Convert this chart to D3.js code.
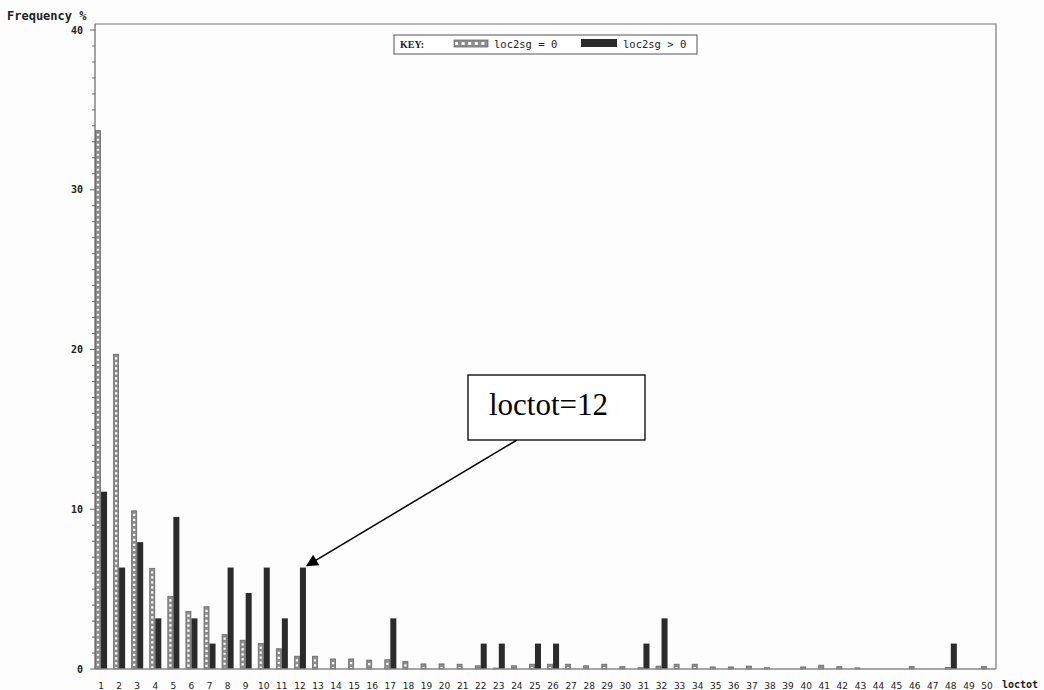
<!DOCTYPE html>
<html>
<head>
<meta charset="utf-8">
<script src="https://cdn.jsdelivr.net/npm/d3@7"></script>
<style>
  html, body { margin: 0; padding: 0; background: #fdfdfd; }
  svg { display: block; }
  .tick-lab { font-family: "DejaVu Sans", sans-serif; font-size: 9px; fill: #222; }
</style>
</head>
<body>
<svg id="chart" width="1044" height="690"></svg>
<script>
// loctot categories 1..50
const categories = ["1","2","3","4","5","6","7","8","9","10","11","12","13","14","15","16","17",
  "18","19","20","21","22","23","24","25","26","27","28","29","30","31","32","33","34","35",
  "36","37","38","39","40","41","42","43","44","45","46","47","48","49","50"];

// Frequency % for loc2sg = 0 (dotted bars)
const zeroGroup = [33.7, 19.7, 9.9, 6.3, 4.55, 3.6, 3.9, 2.15, 1.8, 1.6, 1.27, 0.8, 0.8, 0.63, 0.63,
  0.56, 0.58, 0.48, 0.32, 0.32, 0.3, 0.2, 0.06, 0.2, 0.3, 0.3, 0.3, 0.2, 0.3, 0.15,
  0.08, 0.18, 0.3, 0.3, 0.13, 0.13, 0.18, 0.08, 0, 0.13, 0.24, 0.15, 0.07, 0, 0,
  0.15, 0, 0.1, 0, 0.15];

// Frequency % for loc2sg > 0 (solid bars)
const posGroup = [11.1, 6.35, 7.94, 3.17, 9.52, 3.17, 1.59, 6.35, 4.76, 6.35, 3.17, 6.35, 0, 0, 0,
  0, 3.17, 0, 0, 0, 0, 1.59, 1.59, 0, 1.59, 1.59, 0, 0, 0, 0,
  1.59, 3.17, 0, 0, 0, 0, 0, 0, 0, 0, 0, 0, 0, 0, 0,
  0, 0, 1.59, 0, 0];

const yMajorTicks = [0, 10, 20, 30, 40];
const annotation = { category: "12", label: "loctot=12" };

(function () {
  "use strict";
  const svg = d3.select("#chart");
  const pLeft = 95, pRight = 996, pTop = 24, pBottom = 669;
  const mono = "DejaVu Sans Mono, monospace";

  const x = d3.scaleBand().domain(categories).range([pLeft, 993])
    .paddingInner(1 / 3).paddingOuter(0);
  const xs = d3.scaleBand().domain(["zero", "pos"]).range([0, x.bandwidth()]);
  const y = d3.scaleLinear().domain([0, 40]).range([pBottom, 30]);

  // frame (top + right)
  svg.append("path")
    .attr("d", `M${pLeft},${pTop}H${pRight}V${pBottom}`)
    .attr("fill", "none").attr("stroke", "#777").attr("stroke-width", 1.2);

  const rows = categories.map((c, i) => ({ c, zero: zeroGroup[i], pos: posGroup[i] }));

  // dotted bars: gray body with a column of white dots
  const zg = svg.append("g");
  zg.selectAll("rect").data(rows.filter(d => d.zero > 0)).enter().append("rect")
    .attr("x", d => x(d.c) + 0.5)
    .attr("y", d => y(d.zero))
    .attr("width", xs.bandwidth() - 1)
    .attr("height", d => pBottom - y(d.zero))
    .attr("fill", "#8c8c8c").attr("stroke", "#6a6a6a").attr("stroke-width", 0.8);
  zg.selectAll("line").data(rows.filter(d => d.zero > 0.2)).enter().append("line")
    .attr("x1", d => x(d.c) + xs.bandwidth() / 2)
    .attr("x2", d => x(d.c) + xs.bandwidth() / 2)
    .attr("y1", d => y(d.zero) + 3)
    .attr("y2", pBottom - 1)
    .attr("stroke", "#fff").attr("stroke-width", 2.2)
    .attr("stroke-dasharray", "2.2,2.8");

  // solid bars
  svg.append("g").selectAll("rect").data(rows.filter(d => d.pos > 0)).enter().append("rect")
    .attr("x", d => x(d.c) + xs("pos"))
    .attr("y", d => y(d.pos))
    .attr("width", xs.bandwidth())
    .attr("height", d => pBottom - y(d.pos))
    .attr("fill", "#2b2b2b");

  // left axis
  const yAxis = svg.append("g").attr("transform", `translate(${pLeft},0)`);
  yAxis.append("line").attr("y1", pTop).attr("y2", pBottom).attr("stroke", "#666").attr("stroke-width", 1.2);
  yAxis.selectAll(".minor").data(d3.range(0, 41)).enter().append("line")
    .attr("x1", 0).attr("x2", d => yMajorTicks.includes(d) ? -5 : -3)
    .attr("y1", d => y(d)).attr("y2", d => y(d))
    .attr("stroke", "#666");
  yAxis.selectAll("text").data(yMajorTicks).enter().append("text")
    .attr("x", -12).attr("y", d => y(d)).attr("dy", "0.35em")
    .attr("text-anchor", "end")
    .attr("font-family", mono).attr("font-weight", "bold")
    .attr("font-size", 10).attr("fill", "#222")
    .text(d => d);

  // bottom axis
  svg.append("line").attr("x1", pLeft).attr("x2", pRight).attr("y1", pBottom).attr("y2", pBottom)
    .attr("stroke", "#888").attr("stroke-width", 1.5);
  svg.append("g").selectAll("text").data(categories).enter().append("text")
    .attr("class", "tick-lab")
    .attr("x", d => x(d) + x.bandwidth() / 2).attr("y", 689)
    .attr("text-anchor", "middle")
    .attr("font-size", d => d.length > 1 ? 8.5 : 9)
    .text(d => d);

  svg.append("text").attr("x", 1002).attr("y", 688)
    .attr("font-family", mono).attr("font-weight", "bold")
    .attr("font-size", 10).attr("fill", "#222").text("loctot");
  svg.append("text").attr("x", 7).attr("y", 20)
    .attr("font-family", mono).attr("font-weight", "bold")
    .attr("font-size", 12).attr("fill", "#222").text("Frequency %");

  // legend
  const lg = svg.append("g");
  lg.append("rect").attr("x", 394).attr("y", 35).attr("width", 303).attr("height", 19)
    .attr("fill", "#fff").attr("stroke", "#555").attr("stroke-width", 1);
  lg.append("text").attr("x", 400).attr("y", 48)
    .attr("font-family", "Liberation Serif, serif").attr("font-weight", "bold")
    .attr("font-size", 10).attr("fill", "#222").text("KEY:");
  lg.append("rect").attr("x", 454).attr("y", 40).attr("width", 34).attr("height", 7)
    .attr("fill", "#8c8c8c").attr("stroke", "#6a6a6a").attr("stroke-width", 0.8);
  lg.append("line").attr("x1", 455).attr("x2", 488).attr("y1", 43.5).attr("y2", 43.5)
    .attr("stroke", "#fff").attr("stroke-width", 3).attr("stroke-dasharray", "3,3.6");
  lg.append("text").attr("x", 494).attr("y", 48)
    .attr("font-family", mono).attr("font-size", 10.5).attr("fill", "#222")
    .text("loc2sg = 0");
  lg.append("rect").attr("x", 581).attr("y", 39).attr("width", 36).attr("height", 8)
    .attr("fill", "#2b2b2b");
  lg.append("text").attr("x", 623).attr("y", 48)
    .attr("font-family", mono).attr("font-size", 10.5).attr("fill", "#222")
    .text("loc2sg > 0");

  // annotation box + arrow
  svg.append("defs").append("marker").attr("id", "arrowhead")
    .attr("viewBox", "0 0 10 10").attr("refX", 9).attr("refY", 5)
    .attr("markerWidth", 16).attr("markerHeight", 12).attr("orient", "auto")
    .attr("markerUnits", "userSpaceOnUse")
    .append("path").attr("d", "M0,0L10,5L0,10Z").attr("fill", "#000");

  const ai = categories.indexOf(annotation.category);
  const tipX = x(annotation.category) + xs("pos") + xs.bandwidth() + 1;
  const tipY = y(posGroup[ai]) - 2;
  svg.append("line").attr("x1", 517).attr("y1", 440).attr("x2", tipX).attr("y2", tipY)
    .attr("stroke", "#000").attr("stroke-width", 1.5).attr("marker-end", "url(#arrowhead)");
  svg.append("rect").attr("x", 468).attr("y", 375).attr("width", 177).attr("height", 65)
    .attr("fill", "#fff").attr("stroke", "#000").attr("stroke-width", 1.3);
  svg.append("text").attr("x", 489).attr("y", 415)
    .attr("font-family", "Liberation Serif, Times New Roman, serif")
    .attr("font-size", 31).attr("fill", "#000").text(annotation.label);
})();
</script>
</body>
</html>
